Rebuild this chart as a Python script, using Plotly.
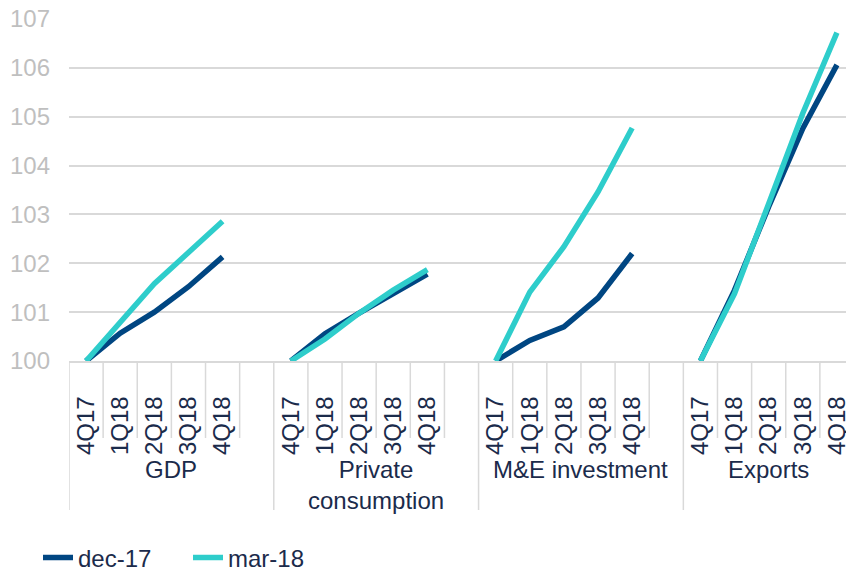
import plotly.graph_objects as go

groups = ["GDP", "Private<br>consumption", "M&E investment", "Exports"]
quarters = ["4Q17", "1Q18", "2Q18", "3Q18", "4Q18"]
dec17 = {
    "GDP": [100.0, 100.57, 101.0, 101.52, 102.13],
    "Private<br>consumption": [100.0, 100.56, 100.98, 101.38, 101.78],
    "M&E investment": [100.0, 100.42, 100.70, 101.29, 102.20],
    "Exports": [100.0, 101.45, 103.16, 104.76, 106.06],
}
mar18 = {
    "GDP": [100.0, 100.80, 101.58, 102.22, 102.86],
    "Private<br>consumption": [100.0, 100.45, 100.98, 101.45, 101.87],
    "M&E investment": [100.0, 101.41, 102.34, 103.46, 104.77],
    "Exports": [100.0, 101.38, 103.22, 105.07, 106.72],
}
series_names = ["dec-17", "mar-18"]
y_ticks = [100, 101, 102, 103, 104, 105, 106, 107]

NAVY = "#004682"
TURQ = "#2ECDCB"
TEXT = "#1B2B4B"
GRID = "#D9D9D9"
FONT = "Liberation Sans, Arial, sans-serif"

slots_per_group = len(quarters) + 1  # one empty slot after each group


def build(series):
    xs, ys = [], []
    for g, name in enumerate(groups):
        for s, v in enumerate(series[name]):
            xs.append(g * slots_per_group + s)
            ys.append(v)
        xs.append(None)
        ys.append(None)
    return xs, ys


fig = go.Figure()
for name, data, color in [(series_names[0], dec17, NAVY), (series_names[1], mar18, TURQ)]:
    xs, ys = build(data)
    fig.add_trace(go.Scatter(x=xs, y=ys, mode="lines", name=name,
                             line=dict(color=color, width=5.5),
                             connectgaps=False))

tickvals, ticktext = [], []
for g in range(len(groups)):
    for s, q in enumerate(quarters):
        tickvals.append(g * slots_per_group + s)
        ticktext.append(q)

n_slots = len(groups) * slots_per_group - 1
x_range = [-0.5, n_slots - 0.5]

# page body has an 8px margin; figure is sized so it ends at the window edge
W, H = 846, 564
left, top, bottom = 61, 10, 353
plot_h = bottom - top
plot_w = W - left

shapes = []
# group dividers
for g in range(len(groups)):
    xb = g * slots_per_group - 0.5
    shapes.append(dict(type="line", xref="x", yref="paper", x0=xb, x1=xb,
                       y0=0, y1=-149 / plot_h,
                       line=dict(color=GRID, width=1.5)))
# category boundaries inside groups
for g in range(len(groups)):
    last = len(quarters) if g < len(groups) - 1 else len(quarters) - 1
    for s in range(1, last + 1):
        xb = g * slots_per_group + s - 0.5
        shapes.append(dict(type="line", xref="x", yref="paper", x0=xb, x1=xb,
                           y0=0, y1=-77 / plot_h,
                           line=dict(color=GRID, width=1.5)))

annotations = []
for g, name in enumerate(groups):
    span = slots_per_group if g < len(groups) - 1 else len(quarters)
    xc = g * slots_per_group + (span - 1) / 2
    annotations.append(dict(text=name, xref="x", yref="paper", x=xc,
                            y=-93 / plot_h, yanchor="top",
                            showarrow=False, align="center",
                            font=dict(family=FONT, size=24, color=TEXT)))

fig.update_layout(
    width=W, height=H,
    margin=dict(l=left, r=0, t=top, b=H - bottom, autoexpand=False),
    paper_bgcolor="white", plot_bgcolor="white",
    font=dict(family=FONT, size=24, color=TEXT),
    showlegend=True,
    legend=dict(orientation="h", x=-31 / plot_w, xanchor="left",
                y=-197 / plot_h, yanchor="middle",
                font=dict(family=FONT, size=24, color=TEXT),
                itemwidth=30, entrywidth=105, entrywidthmode="pixels",
                tracegroupgap=0, bgcolor="rgba(0,0,0,0)"),
    xaxis=dict(range=x_range, tickmode="array", tickvals=tickvals,
               ticktext=ticktext, tickangle=-90, showgrid=False,
               zeroline=False, showline=True, linecolor=GRID, linewidth=1.5,
               ticks="", ticklabelstandoff=24, automargin=False,
               ticklabeloverflow="allow",
               tickfont=dict(family=FONT, size=24, color=TEXT)),
    yaxis=dict(range=[100, 107.02], tickmode="array", tickvals=y_ticks,
               showgrid=True, gridcolor=GRID, gridwidth=1.5, zeroline=False,
               showline=False, ticks="", ticklabelstandoff=18, automargin=False,
               ticklabeloverflow="allow",
               tickfont=dict(family=FONT, size=24, color="#BFBFBF")),
    shapes=shapes, annotations=annotations,
)

fig.write_html("out.html")
